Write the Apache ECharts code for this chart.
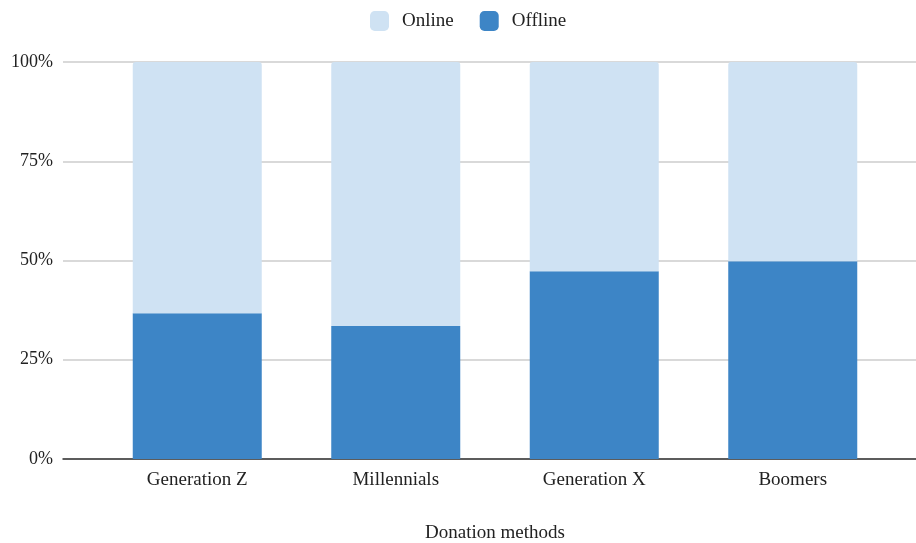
<!DOCTYPE html>
<html>
<head>
<meta charset="utf-8">
<script src="https://cdn.jsdelivr.net/npm/echarts@6/dist/echarts.min.js"></script>
<style>
  html, body { margin: 0; padding: 0; background: #fff; }
  #chart { width: 916px; height: 543px; }
</style>
</head>
<body>
<div id="chart"></div>
<script>
// Share of donations by method for each generation (percent)
const generations = ['Generation Z', 'Millennials', 'Generation X', 'Boomers'];
const offlineShare = [36.7, 33.5, 47.3, 49.8];
const onlineShare = [63.3, 66.5, 52.7, 50.2];
const percentTicks = [0, 25, 50, 75, 100];

const FONT = '"Liberation Serif", "Times New Roman", serif';
const TEXT = '#222';

const chart = echarts.init(document.getElementById('chart'), null, { renderer: 'canvas' });

chart.setOption({
  animation: false,
  textStyle: { fontFamily: FONT, color: TEXT },
  legend: {
    top: 6,
    left: 365,
    itemWidth: 19,
    itemHeight: 20,
    itemGap: 26,
    itemStyle: { borderWidth: 0 },
    textStyle: { fontFamily: FONT, fontSize: 19, color: TEXT, padding: [0, 0, 0, 8] },
    data: ['Online', 'Offline']
  },
  grid: [
    // bars
    { left: 98, right: 24, top: 62, bottom: 84, outerBoundsMode: 'none' },
    // gridlines, percent labels and baseline spanning the full width
    { left: 63, right: 0, top: 62, bottom: 84, outerBoundsMode: 'none' }
  ],
  xAxis: [
    {
      type: 'category',
      gridIndex: 0,
      data: generations,
      axisLine: { show: false },
      axisTick: { show: false },
      axisLabel: { fontFamily: FONT, fontSize: 19, color: TEXT, margin: 12 },
      name: 'Donation methods',
      nameLocation: 'middle',
      nameGap: 65,
      nameTextStyle: { fontFamily: FONT, fontSize: 19, color: TEXT }
    },
    {
      type: 'value',
      gridIndex: 1,
      min: 0,
      max: 1,
      axisLine: { show: true, lineStyle: { color: '#333', width: 1.5 } },
      axisTick: { show: false },
      axisLabel: { show: false },
      splitLine: { show: false }
    }
  ],
  yAxis: [
    {
      type: 'value',
      gridIndex: 0,
      min: 0,
      max: 100,
      interval: 25,
      axisLine: { show: false },
      axisTick: { show: false },
      axisLabel: { show: false },
      splitLine: { show: false }
    },
    {
      type: 'value',
      gridIndex: 1,
      min: percentTicks[0],
      max: percentTicks[percentTicks.length - 1],
      interval: 25,
      axisLine: { show: false },
      axisTick: { show: false },
      axisLabel: {
        fontFamily: FONT,
        fontSize: 18,
        color: TEXT,
        margin: 10,
        formatter: v => v + '%'
      },
      splitLine: { show: true, lineStyle: { color: '#cccccc', width: 1.5 } }
    }
  ],
  series: [
    {
      name: 'Offline',
      type: 'bar',
      xAxisIndex: 0,
      yAxisIndex: 0,
      stack: 'share',
      barWidth: 129,
      data: offlineShare,
      itemStyle: { color: '#3d85c6' },
      z: 3
    },
    {
      name: 'Online',
      type: 'bar',
      xAxisIndex: 0,
      yAxisIndex: 0,
      stack: 'share',
      barWidth: 129,
      data: onlineShare,
      itemStyle: { color: '#cfe2f3', borderRadius: [3, 3, 0, 0] },
      z: 3
    }
  ]
});
</script>
</body>
</html>
